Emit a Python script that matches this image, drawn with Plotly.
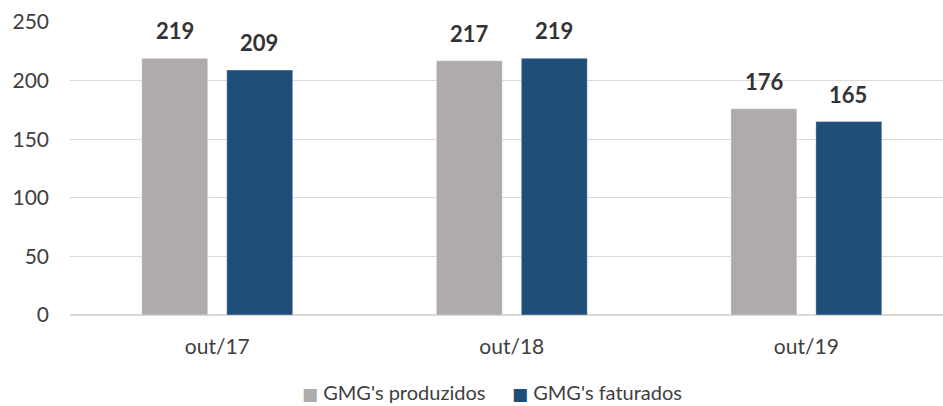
import plotly.graph_objects as go

categories = ["out/17", "out/18", "out/19"]
produzidos = [219, 217, 176]
faturados = [209, 219, 165]
series_names = ["GMG's produzidos", "GMG's faturados"]
colors = ["#AFABAB", "#1F4E79"]
y_ticks = [0, 50, 100, 150, 200, 250]

FONT = "Lato, Open Sans, sans-serif"

fig = go.Figure()
for name, vals, col in zip(series_names, [produzidos, faturados], colors):
    fig.add_trace(go.Bar(
        x=categories, y=vals, name=name, showlegend=False,
        marker=dict(color=col, line=dict(color="rgba(255,255,255,0.35)", width=1)),
    ))

offsets = [-42, 42]
for vals, off in zip([produzidos, faturados], offsets):
    for c, v in zip(categories, vals):
        fig.add_annotation(x=c, y=v, xref="x", yref="y", text=f"<b>{v}</b>",
                           showarrow=False, xshift=off, yshift=12, yanchor="bottom",
                           font=dict(family=FONT, size=22, color="#333333"))

# legend drawn as text entries
legend_x = [0.263, 0.504]
for name, col, lx in zip(series_names, colors, legend_x):
    fig.add_annotation(x=lx, y=-0.262, xref="paper", yref="paper", xanchor="left",
                       yanchor="middle", showarrow=False,
                       text=f'<span style="color:{col};font-family:DejaVu Sans;font-size:17px">■</span> {name}',
                       font=dict(family=FONT, size=20, color="#404040"))

fig.update_layout(
    width=943, height=406,
    margin=dict(l=70, r=0, t=22, b=91),
    plot_bgcolor="white", paper_bgcolor="white",
    barmode="group", bargap=0.423, bargroupgap=0.224,
    font=dict(family=FONT, size=21, color="#404040"),
    showlegend=False,
)
fig.update_yaxes(range=[0, 250], tickvals=y_ticks, showgrid=True, gridcolor="#D9D9D9",
                 gridwidth=1, zeroline=True, zerolinecolor="#D9D9D9", showline=False,
                 ticklabelstandoff=20, tickfont=dict(size=21), automargin=False)
fig.update_xaxes(showline=False, ticks="", ticklabelstandoff=17, tickfont=dict(size=21),
                 range=[-0.5, 2.464], categoryorder="array", categoryarray=categories,
                 automargin=False)

fig.write_html("out.html", config={"displayModeBar": False},
               post_script="document.body.style.margin='0';document.body.style.overflow='hidden';")
